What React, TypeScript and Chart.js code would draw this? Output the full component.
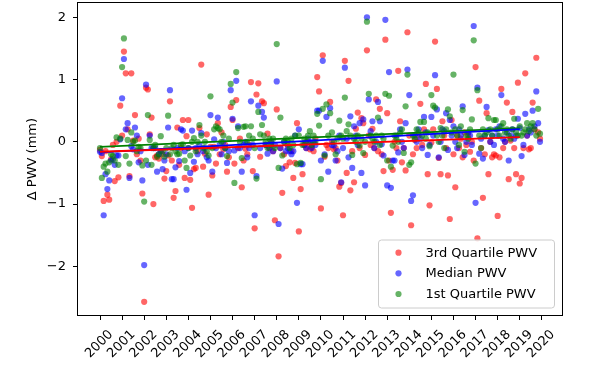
import React, { useEffect, useRef } from "react";
import { Chart, registerables } from "chart.js";

Chart.register(...registerables);

const startYear = 2000;
const xTickLabels = [2000, 2001, 2002, 2003, 2004, 2005, 2006, 2007, 2008, 2009, 2010, 2011, 2012, 2013, 2014, 2015, 2016, 2017, 2018, 2019, 2020];
const yTickValues = [-2, -1, 0, 1, 2];
const seriesLabels = ["3rd Quartile PWV", "Median PWV", "1st Quartile PWV"];
const yAxisTitle = "Δ PWV (mm)";

// monthly anomalies, Jan 2000 .. Dec 2019
const q3Values = [
  -0.13, -0.23, -0.95, -0.15, -0.85, -0.93, -0.28, -0.05, -0.63, 0.0, -0.57, 0.58,
  0.1, 1.45, 1.1, 0.2, -0.55, 1.1, 0.02, 0.43, -0.2, 0.05, -0.3, -0.83,
  -2.57, 0.87, 0.84, 0.12, 0.39, -1.0, -0.25, -0.22, -0.27, -0.15, -0.2, -0.59,
  -0.47, -0.22, 0.65, -0.3, -0.9, -0.79, 0.23, -0.37, -0.1, 0.35, -0.58, 0.09,
  0.35, -0.61, -1.06, -0.44, -0.42, -0.15, 0.22, 1.24, -0.4, -0.19, 0.12, -0.85,
  -0.08, -0.54, -0.08, -0.35, 0.3, -0.2, 0.15, -0.12, -0.05, -0.48, -0.25, 0.56,
  0.35, -0.35, 0.67, -0.1, 0.05, -0.73, -0.3, -0.11, -0.2, -0.05, 0.96, -0.47,
  -1.39, 0.76, 0.94, -0.24, 0.65, 0.62, -0.05, 0.13, -0.1, -0.02, -0.15, -1.26,
  0.52, -1.84, -0.1, -0.82, -0.2, -0.39, -0.05, -0.33, -0.15, -0.58, -0.34, 0.3,
  -1.44, -0.76, -0.52, -0.05, -0.1, 0.0, -0.12, -0.08, -0.15, 0.05, 1.04, 0.81,
  -1.07, 1.39, -0.24, -0.05, -0.1, 0.64, 0.0, -0.12, -0.1, -0.3, -0.72, -0.66,
  -1.18, 1.3, -0.5, 0.98, -0.78, -0.15, -0.65, 0.21, 0.47, -0.1, 0.38, 0.3,
  -0.21, 1.47, 0.1, -0.05, 0.21, -0.1, 0.68, -0.15, 0.53, -0.2, -0.47, 1.64,
  0.46, -0.3, -1.14, -0.45, 0.0, -0.1, 1.14, 0.33, -0.33, -0.1, -0.46, 1.76,
  0.1, -1.34, -0.2, 0.03, -0.1, 0.1, 0.61, -0.05, 0.2, 0.93, -0.52, -1.02,
  -0.01, 0.2, 1.61, 0.85, -0.26, -0.52, 0.33, 0.1, -0.1, -0.54, -1.24, 0.35,
  -0.2, -0.73, 0.1, -0.1, 0.05, -0.25, 0.15, -0.05, 0.1, -0.16, 0.0, -0.3,
  1.2, -1.55, 0.66, -0.1, -0.9, -0.2, 0.46, -0.52, 0.0, -0.25, -0.2, -0.22,
  -1.19, -0.25, 0.85, -0.1, 0.0, 0.63, -0.6, 0.02, 0.48, -0.1, -0.52, 0.95,
  -0.67, -0.58, -0.1, 1.1, 0.1, -0.12, -0.1, 0.63, 0.2, 1.35, 0.15, 0.05,
];

const medianValues = [
  -0.16, -0.18, -1.18, -0.52, -0.76, -0.62, -0.3, -0.28, -0.37, -0.22, -0.22, 0.04,
  0.7, 1.33, 0.2, 0.3, -0.58, -0.07, -0.12, 0.23, 0.1, -0.33, -0.15, -0.62,
  -1.98, 0.92, -0.37, 0.1, -0.1, -0.1, -0.1, -0.48, -0.2, -0.15, -0.44, -0.3,
  -0.2, 0.23, 0.83, -0.6, -0.6, -0.41, -0.1, -0.31, 0.2, 0.18, -0.15, -0.77,
  -0.1, -0.5, 0.18, -0.32, -0.1, -0.2, -0.05, 0.14, -0.15, -0.1, -0.25, -0.3,
  0.43, -0.48, 0.04, -0.1, 0.39, -0.05, -0.2, 0.0, -0.1, -0.34, -0.15, 0.83,
  0.37, -0.14, 0.98, 0.25, -0.1, -0.48, -0.05, 0.0, -0.25, -0.1, 0.65, -0.05,
  -1.18, -0.55, 0.58, -0.1, 0.48, 0.39, -0.05, -0.19, -0.1, 0.0, -0.15, -0.05,
  0.97, -1.32, -0.1, -0.43, 0.0, -0.15, -0.1, -0.15, -0.2, -0.15, 0.1, -0.98,
  0.2, -0.36, -0.36, -0.05, -0.1, 0.05, -0.01, -0.1, 0.0, -0.05, 0.5, 0.5,
  -0.3, 1.3, -0.2, 0.4, -0.48, 0.54, -0.05, -0.06, -0.3, -0.15, 0.1, -0.65,
  -0.1, 1.19, 0.05, -0.25, 0.41, -0.42, 0.25, 0.1, -0.05, 0.3, -0.5, 0.36,
  -0.7, 2.0, 0.68, 0.17, 0.33, -0.1, 0.0, 0.64, 0.33, -0.04, -0.22, 1.96,
  -0.7, 1.12, -0.74, -0.3, -0.3, 0.1, -0.17, 0.2, 0.0, -0.1, 0.3, 1.16,
  0.75, -0.95, -0.86, 0.1, 0.0, 0.2, 0.05, -0.1, 0.4, 0.15, -0.21, -0.05,
  0.4, 0.1, 1.07, 0.52, -0.25, 0.0, 0.2, 0.17, 0.46, -0.13, 0.35, 0.1,
  0.25, 0.0, -0.1, 0.2, 0.1, 0.57, -0.21, 0.0, 0.15, 0.1, -0.05, 1.86,
  -0.98, 0.87, -0.19, 0.05, -0.27, 0.1, 0.56, 0.19, 0.0, 0.1, -0.05, 0.2,
  0.1, 0.25, 0.75, 0.05, 0.0, 0.15, -0.3, 0.1, 0.2, 0.05, 0.1, 0.37,
  0.22, -0.23, -0.05, 0.45, 0.1, 0.2, 0.15, 0.5, 0.25, 0.81, 0.3, 0.0,
];

const q1Values = [
  -0.1, -0.58, -0.4, -0.35, -0.48, -0.33, -0.2, -0.23, -0.3, 0.07, -0.37, 0.05,
  1.2, 1.66, -0.23, 0.03, -0.35, 0.15, 0.0, 0.02, -0.15, -0.08, -0.1, -0.38,
  -0.96, -0.3, 0.43, 0.03, -0.37, -0.1, -0.05, -0.24, -0.2, 0.09, -0.15, -0.24,
  -0.1, 0.42, -0.2, -0.1, -0.05, -0.15, -0.2, -0.19, -0.05, -0.04, -0.3, -0.42,
  -0.1, -0.22, 0.0, 0.06, -0.15, 0.0, 0.27, 0.1, -0.1, 0.0, -0.15, -0.22,
  0.73, -0.1, 0.2, 0.25, 0.22, 0.2, 0.0, 0.1, -0.1, -0.23, 0.05, 0.93,
  0.63, -0.66, 1.12, 0.22, 0.0, -0.26, 0.24, 0.25, 0.0, 0.1, 0.25, 0.05,
  -0.1, -0.59, 0.48, 0.12, 0.27, 0.1, 0.0, -0.1, 0.05, -0.05, 0.05, -0.1,
  1.57, -0.42, 0.39, -0.22, 0.0, 0.05, 0.0, -0.1, 0.05, -0.05, 0.1, -0.36,
  0.1, -0.34, -0.05, 0.05, 0.0, 0.1, 0.17, -0.05, 0.1, 0.0, 0.45, 0.26,
  -0.6, 0.53, -0.22, 0.6, 0.1, 0.46, 0.15, 0.0, -0.2, 0.05, 0.34, 0.1,
  0.05, 0.71, 0.17, 0.28, 0.1, -0.21, 0.05, 0.0, 0.1, -0.06, 0.05, -0.18,
  0.0, 1.93, 0.77, 0.1, 0.05, 0.0, 0.1, 0.39, -0.05, 0.1, 0.05, 0.77,
  -0.3, 0.74, -0.4, -0.06, 0.1, 0.05, 0.0, 0.14, 0.2, -0.18, 0.57, 1.08,
  -0.37, -0.33, 0.1, 0.05, 0.2, 0.15, 0.32, 0.1, 0.32, 0.05, 0.15, -0.07,
  0.75, 0.58, 0.55, 0.1, 0.0, 0.22, 0.1, -0.1, 0.2, 0.52, 0.41, 0.15,
  1.08, 0.2, 0.1, -0.05, 0.25, 0.51, -0.16, 0.1, 0.05, 0.2, 0.36, 1.63,
  -0.35, 0.83, 0.1, -0.1, 0.2, 0.1, 0.15, 0.38, 0.2, 0.1, 0.35, 0.35,
  0.2, 0.1, 0.25, 0.3, 0.15, 0.2, 0.1, 0.05, 0.2, 0.37, 0.15, 0.1,
  0.25, 0.1, 0.15, 0.2, 0.3, 0.17, 0.25, 0.3, 0.2, 0.1, 0.53, 0.13,
];

// linear trend end points
const trendYears = [2000, 2019];
const q3Trend = [-0.16, 0.075];
const medianTrend = [-0.17, 0.205];
const q1Trend = [-0.08, 0.22];

const pointColors = ["rgba(255,0,0,0.6)", "rgba(0,0,255,0.6)", "rgba(0,128,0,0.6)"];
const lineColors = ["#ff0000", "#0000ff", "#008000"];
const FONT = "'DejaVu Sans', 'Liberation Sans', sans-serif";

const toPoints = (vals: number[]) => vals.map((v, i) => ({ x: startYear + i / 12, y: v }));
const toTrend = (vals: number[]) => vals.map((v, i) => ({ x: trendYears[i], y: v }));

const frameLegendPlugin = {
  id: "frameLegend",
  afterDatasetsDraw(chart: any) {
    const { ctx, chartArea: a } = chart;
    ctx.save();
    // frame
    ctx.strokeStyle = "#000";
    ctx.lineWidth = 1;
    ctx.strokeRect(Math.round(a.left) - 0.5, Math.round(a.top) - 0.5, Math.round(a.right - a.left) + 1, Math.round(a.bottom - a.top) + 1);
    // legend box
    const w = 176;
    const h = 68;
    const lx = a.right - 7.5 - w;
    const ly = a.bottom - 7 - h;
    const r = 3;
    ctx.beginPath();
    ctx.moveTo(lx + r, ly);
    ctx.lineTo(lx + w - r, ly);
    ctx.quadraticCurveTo(lx + w, ly, lx + w, ly + r);
    ctx.lineTo(lx + w, ly + h - r);
    ctx.quadraticCurveTo(lx + w, ly + h, lx + w - r, ly + h);
    ctx.lineTo(lx + r, ly + h);
    ctx.quadraticCurveTo(lx, ly + h, lx, ly + h - r);
    ctx.lineTo(lx, ly + r);
    ctx.quadraticCurveTo(lx, ly, lx + r, ly);
    ctx.closePath();
    ctx.fillStyle = "rgba(255,255,255,0.8)";
    ctx.fill();
    ctx.strokeStyle = "#cccccc";
    ctx.lineWidth = 1;
    ctx.stroke();
    ctx.font = "13px " + FONT;
    ctx.textBaseline = "middle";
    ctx.textAlign = "left";
    seriesLabels.forEach((label, k) => {
      const cy = ly + 12.7 + k * 20.65;
      ctx.beginPath();
      ctx.arc(lx + 20, cy, 3.1, 0, Math.PI * 2);
      ctx.fillStyle = pointColors[k];
      ctx.fill();
      ctx.fillStyle = "#000";
      ctx.fillText(label, lx + 47, cy + 0.5);
    });
    ctx.restore();
  },
};

export default function App() {
  const canvasRef = useRef<HTMLCanvasElement | null>(null);

  useEffect(() => {
    document.body.style.margin = "0";
    const canvas = canvasRef.current;
    if (!canvas) return;
    Chart.defaults.font.family = FONT;
    Chart.defaults.color = "#000";

    const scatterSet = (k: number, vals: number[], order: number) => ({
      label: seriesLabels[k],
      data: toPoints(vals),
      backgroundColor: pointColors[k],
      borderColor: pointColors[k],
      borderWidth: 0,
      pointRadius: 3.1,
      pointHoverRadius: 3.1,
      showLine: false,
      order,
    });
    const trendSet = (k: number, vals: number[]) => ({
      label: seriesLabels[k] + " trend",
      data: toTrend(vals),
      borderColor: lineColors[k],
      backgroundColor: lineColors[k],
      borderWidth: 1.8,
      pointRadius: 0,
      showLine: true,
      order: 0,
    });

    const chart = new Chart(canvas, {
      type: "scatter",
      data: {
        datasets: [
          scatterSet(0, q3Values, 3),
          scatterSet(1, medianValues, 2),
          scatterSet(2, q1Values, 1),
          trendSet(0, q3Trend),
          trendSet(1, medianTrend),
          trendSet(2, q1Trend),
        ],
      },
      options: {
        animation: false,
        responsive: true,
        maintainAspectRatio: false,
        events: [],
        layout: { padding: { top: 1, right: 30, left: 0, bottom: 0 } },
        plugins: {
          legend: { display: false },
          tooltip: { enabled: false },
        },
        scales: {
          x: {
            type: "linear",
            min: 1999.004,
            max: 2020.913,
            afterBuildTicks: (s: any) => {
              s.ticks = xTickLabels.map((v) => ({ value: v }));
            },
            afterFit: (s: any) => {
              s.height = 53;
              s.paddingLeft = 0;
              s.paddingRight = 0;
            },
            ticks: {
              autoSkip: false,
              minRotation: 45,
              maxRotation: 45,
              padding: 7,
              labelOffset: 11,
              color: "#000",
              font: { size: 13, family: FONT },
              callback: (v: any) => String(v),
            },
            grid: { drawOnChartArea: false, drawTicks: true, tickLength: 5, color: "#000", lineWidth: 1 },
            border: { display: false },
          },
          y: {
            min: -2.782,
            max: 2.228,
            afterBuildTicks: (s: any) => {
              s.ticks = yTickValues.map((v) => ({ value: v }));
            },
            afterFit: (s: any) => {
              s.width = 78;
              s.paddingTop = 0;
              s.paddingBottom = 0;
            },
            ticks: {
              padding: 7,
              color: "#000",
              font: { size: 13, family: FONT },
              callback: (v: any) => (v < 0 ? "\u2212" + Math.abs(v) : String(v)),
            },
            grid: { drawOnChartArea: false, drawTicks: true, tickLength: 5, color: "#000", lineWidth: 1 },
            border: { display: false },
            title: {
              display: true,
              text: yAxisTitle,
              color: "#000",
              font: { size: 13, family: FONT },
              padding: { top: 25, bottom: 0 },
            },
          },
        },
      },
      plugins: [frameLegendPlugin],
    });
    return () => chart.destroy();
  }, []);

  return (
    <div style={{ width: 592, height: 368, position: "relative" }}>
      <canvas ref={canvasRef} />
    </div>
  );
}
